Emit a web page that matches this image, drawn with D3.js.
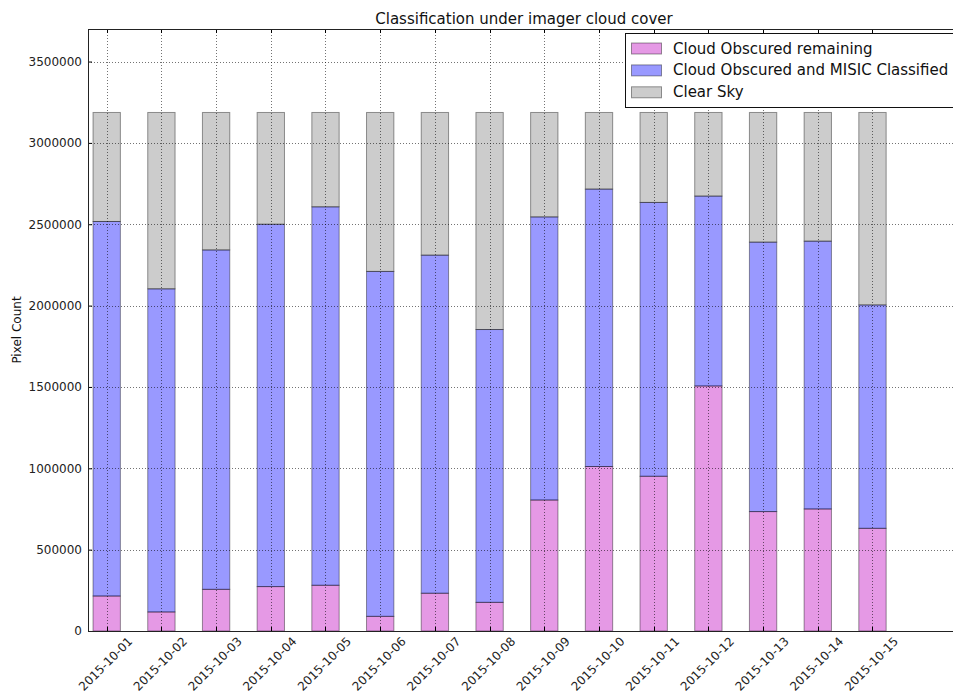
<!DOCTYPE html>
<html>
<head>
<meta charset="utf-8">
<script src="https://cdn.jsdelivr.net/npm/d3@7"></script>
<style>
  html, body { margin: 0; padding: 0; background: #fff; }
  svg { display: block; font-family: "DejaVu Sans", sans-serif; }
</style>
</head>
<body>
<svg id="chart" width="953" height="693"></svg>
<script>
// Daily pixel counts, stacked bottom to top
const dates = ["2015-10-01","2015-10-02","2015-10-03","2015-10-04","2015-10-05",
  "2015-10-06","2015-10-07","2015-10-08","2015-10-09","2015-10-10",
  "2015-10-11","2015-10-12","2015-10-13","2015-10-14","2015-10-15"];
const obscuredRemaining = [215000,117000,256000,273000,281000,90000,232000,176000,
  805000,1011000,951000,1506000,734000,750000,631000];
const obscuredClassified = [2302000,1986000,2086000,2227000,2326000,2120000,2078000,1677000,
  1740000,1705000,1683000,1167000,1656000,1646000,1373000];
const clearSky = [670000,1084000,845000,687000,580000,977000,877000,1334000,
  642000,471000,553000,514000,797000,791000,1183000];
const yTicks = [0,500000,1000000,1500000,2000000,2500000,3000000,3500000];
const seriesNames = ["Cloud Obscured remaining","Cloud Obscured and MISIC Classified","Clear Sky"];
const seriesColors = ["#bf00bf","#0000ff","#808080"];

const svg = d3.select("#chart");
const pLeft = 88, pRight = 960, pTop = 29, pBottom = 631;

const x = d3.scaleLinear().domain([-0.342, 15.6]).range([pLeft, pRight]);
const y = d3.scaleLinear().domain([0, 3700000]).range([pBottom, pTop]);
const barW = x(0.5) - x(0);

const rows = dates.map((d, i) => ({
  date: d,
  [seriesNames[0]]: obscuredRemaining[i],
  [seriesNames[1]]: obscuredClassified[i],
  [seriesNames[2]]: clearSky[i]
}));
const stacked = d3.stack().keys(seriesNames)(rows);

// stacked bars
const g = svg.append("g");
stacked.forEach((layer, k) => {
  g.selectAll(null).data(layer).enter().append("rect")
    .attr("x", (d, i) => x(i) - barW / 2)
    .attr("width", barW)
    .attr("y", d => y(d[1]))
    .attr("height", d => y(d[0]) - y(d[1]))
    .attr("fill", seriesColors[k]).attr("fill-opacity", 0.4)
    .attr("stroke", "#000").attr("stroke-opacity", 0.4).attr("stroke-width", 1);
});

// dotted grid
const grid = svg.append("g").attr("stroke", "#000").attr("stroke-width", 1)
  .attr("stroke-dasharray", "1,2").attr("stroke-opacity", 0.55);
grid.selectAll(null).data(yTicks).enter().append("line")
  .attr("x1", pLeft).attr("x2", pRight)
  .attr("y1", d => Math.round(y(d)) + 0.5).attr("y2", d => Math.round(y(d)) + 0.5);
grid.selectAll(null).data(dates).enter().append("line")
  .attr("y1", pTop).attr("y2", pBottom)
  .attr("x1", (d, i) => Math.round(x(i)) + 0.5).attr("x2", (d, i) => Math.round(x(i)) + 0.5);

// y axis
const yAxis = d3.axisLeft(y).tickValues(yTicks).tickFormat(d3.format("d"))
  .tickSizeInner(-4).tickSizeOuter(0).tickPadding(6);
const ya = svg.append("g").attr("transform", `translate(${pLeft},0)`).call(yAxis);
ya.select(".domain").remove();
ya.selectAll("text").attr("font-size", 12).attr("fill", "#222").attr("x", -6)
  .style("font-family", "DejaVu Sans");

// x ticks on bottom and top (inward)
const xt = svg.append("g").attr("stroke", "#000").attr("stroke-width", 1);
xt.selectAll(null).data(dates).enter().append("line")
  .attr("x1", (d, i) => Math.round(x(i)) + 0.5).attr("x2", (d, i) => Math.round(x(i)) + 0.5)
  .attr("y1", pBottom).attr("y2", pBottom - 4);
xt.selectAll(null).data(dates).enter().append("line")
  .attr("x1", (d, i) => Math.round(x(i)) + 0.5).attr("x2", (d, i) => Math.round(x(i)) + 0.5)
  .attr("y1", pTop).attr("y2", pTop + 4);

// rotated date labels
svg.append("g").selectAll(null).data(dates).enter().append("text")
  .attr("transform", (d, i) => `translate(${x(i) - 1},664) rotate(-45)`)
  .attr("text-anchor", "middle").attr("dominant-baseline", "central")
  .attr("font-size", 12).attr("fill", "#222").text(d => d);

// frame
svg.append("rect").attr("x", pLeft + 0.5).attr("y", pTop + 0.5)
  .attr("width", pRight - pLeft).attr("height", pBottom - pTop)
  .attr("fill", "none").attr("stroke", "#222").attr("stroke-width", 1);

// title and axis label
svg.append("text").attr("x", (pLeft + pRight) / 2).attr("y", 24)
  .attr("text-anchor", "middle").attr("font-size", 15).attr("fill", "#111")
  .text("Classification under imager cloud cover");
svg.append("text").attr("transform", `translate(21,${(pTop + pBottom) / 2}) rotate(-90)`)
  .attr("text-anchor", "middle").attr("font-size", 12).attr("fill", "#111")
  .text("Pixel Count");

// legend
const lg = svg.append("g");
lg.append("rect").attr("x", 625.5).attr("y", 33.5).attr("width", 340).attr("height", 74)
  .attr("fill", "#fff").attr("stroke", "#111").attr("stroke-width", 1);
seriesNames.forEach((name, k) => {
  const cy = 48.5 + k * 21.9;
  lg.append("rect").attr("x", 631.5).attr("y", cy - 5.5).attr("width", 30).attr("height", 11)
    .attr("fill", seriesColors[k]).attr("fill-opacity", 0.4)
    .attr("stroke", "#000").attr("stroke-opacity", 0.4);
  lg.append("text").attr("x", 673).attr("y", cy).attr("dominant-baseline", "central")
    .attr("font-size", 15).attr("fill", "#111").text(name);
});
</script>
</body>
</html>
